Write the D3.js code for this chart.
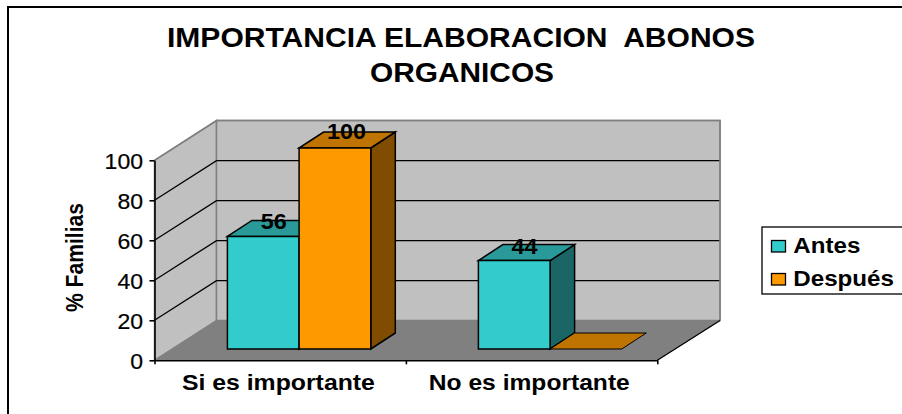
<!DOCTYPE html>
<html><head><meta charset="utf-8">
<script src="https://cdn.jsdelivr.net/npm/d3@7"></script>
<style>
html,body{margin:0;padding:0;background:#fff;overflow:hidden}
text{font-family:"Liberation Sans",Arial,sans-serif;font-weight:bold;fill:#000}
</style></head><body><div id="c"></div>
<script>
const categories = ["Si es importante","No es importante"];
const seriesNames = ["Antes","Después"];
const antes = [56,44];
const despues = [100,0];
const yTicks = [0,20,40,60,80,100];
const titleLines = ["IMPORTANCIA ELABORACION  ABONOS","ORGANICOS"];
const yTitle = "% Familias";

const W=902,H=414;
const svg=d3.select("#c").append("svg").attr("width",W).attr("height",H).style("display","block");
const stretch=(sel,len)=>sel.attr("textLength",len).attr("lengthAdjust","spacingAndGlyphs");

// frame
svg.append("rect").attr("x",8).attr("y",7).attr("width",W+10).attr("height",H+10)
  .attr("fill","#fff").attr("stroke","#000").attr("stroke-width",2);

const ox=154.5, x1=657.3, dx=62, dy=-39.7, xr=x1+dx+0.7;
const y=d3.scaleLinear().domain([0,100]).range([360.3,160.3]);
const x=d3.scaleBand().domain(categories).range([ox,x1]);
const poly=(pts,fill,stroke,sw)=>svg.append("polygon").attr("points",pts.map(p=>p.join(",")).join(" "))
  .attr("fill",fill).attr("stroke",stroke).attr("stroke-width",sw||1);

// walls and floor
poly([[ox,y(0)],[ox+dx,y(0)+dy],[ox+dx,y(100)+dy],[ox,y(100)]],"#c0c0c0","#808080",1.5);
poly([[ox+dx,y(0)+dy],[xr,y(0)+dy],[xr,y(100)+dy],[ox+dx,y(100)+dy]],"#c0c0c0","#808080",1.5);
poly([[ox,y(0)],[ox+dx,y(0)+dy],[xr,y(0)+dy],[x1,y(0)]],"#808080","#808080",1);

// gridlines
yTicks.filter(t=>t>0&&t<100).forEach(t=>{
  svg.append("path").attr("fill","none").attr("stroke","#000").attr("stroke-width",1.3)
    .attr("d",`M${ox},${y(t)}L${ox+dx},${y(t)+dy}L${xr},${y(t)+dy}`);
});
svg.append("path").attr("fill","none").attr("stroke","#808080").attr("stroke-width",1.5)
  .attr("d",`M${ox},${y(100)}L${ox+dx},${y(100)+dy}L${xr},${y(100)+dy}L${xr},${y(0)+dy}`);
svg.append("path").attr("fill","none").attr("stroke","#000").attr("stroke-width",1.2)
  .attr("d",`M${x1},${y(0)}L${xr},${y(0)+dy}`);

// axes
const yAxis=d3.axisLeft(y).tickValues(yTicks).tickSize(5).tickPadding(6.5).tickSizeOuter(0);
const gy=svg.append("g").attr("transform",`translate(${ox},0)`).call(yAxis);
gy.selectAll("text").style("font-weight","normal").style("font-size","21.5px")
  .style("stroke","#000").style("stroke-width","0.2px")
  .attr("dy","0.36em")
  .attr("textLength",d=>String(d).length*12.8).attr("lengthAdjust","spacingAndGlyphs");
gy.selectAll("line,path").attr("stroke","#000").attr("stroke-width",1.6);
const gx=svg.append("g").attr("transform",`translate(0,${y(0)})`)
  .call(d3.axisBottom(d3.scaleLinear().domain([0,2]).range([ox,x1])).tickValues([0,1,2]).tickSize(4).tickSizeOuter(0).tickFormat(""));
gx.selectAll("line,path").attr("stroke","#000").attr("stroke-width",1.6);
const catLen=[193,201];
svg.selectAll(".cat").data(categories).enter().append("text").attr("class","cat")
  .attr("x",(d,i)=>x(d)+x.bandwidth()/2+[-1.8,-2.3][i]).attr("y",390).attr("text-anchor","middle")
  .attr("textLength",(d,i)=>catLen[i]).attr("lengthAdjust","spacingAndGlyphs")
  .style("font-size","21.5px").text(d=>d);

// bars
const barBase=349, depthX=24.5, depthY=-16, barW=71.7;
const hScale=d3.scaleLinear().domain([0,100]).range([0,201]);
const barLeft=[227.4,478.4];
const cols=[{f:"#33cccc",t:"#299999",s:"#1a6666"},{f:"#ff9900",t:"#bf7300",s:"#804d00"}];
const drawBar=(xl,v,c)=>{
  const h=hScale(v), top=barBase-h, xe=xl+barW;
  if(v>0){
    poly([[xe,top],[xe+depthX,top+depthY],[xe+depthX,barBase+depthY],[xe,barBase]],c.s,"#000",1.5);
    poly([[xl,top],[xl+depthX,top+depthY],[xe+depthX,top+depthY],[xe,top]],c.t,"#000",1.5);
    poly([[xl,top],[xe,top],[xe,barBase],[xl,barBase]],c.f,"#000",1.5);
  } else {
    poly([[xl,top],[xl+depthX,top+depthY],[xe+depthX,top+depthY],[xe,top]],c.t,"#000",1);
  }
};
categories.forEach((cat,i)=>{
  drawBar(barLeft[i],antes[i],cols[0]);
  drawBar(barLeft[i]+barW,despues[i],cols[1]);
});
const label=(v,xc)=>stretch(svg.append("text").attr("x",xc).attr("y",barBase-hScale(v)-(v===100?8.7:7)).attr("text-anchor","middle")
  .style("font-size","21.5px").text(v),String(v).length*13);
label(antes[0],273.7);
label(despues[0],346.5);
label(antes[1],524.5);

// y title
stretch(svg.append("text").attr("transform","translate(83.3,257.5) rotate(-90)").attr("text-anchor","middle")
  .style("font-size","24px").text(yTitle),109);

// title
const titleLen=[588,184];
svg.selectAll(".ttl").data(titleLines).enter().append("text").attr("class","ttl")
  .attr("x",(d,i)=>[461,462][i]).attr("y",(d,i)=>46.5+i*35.5).attr("text-anchor","middle")
  .attr("xml:space","preserve").style("white-space","pre")
  .attr("textLength",(d,i)=>titleLen[i]).attr("lengthAdjust","spacingAndGlyphs")
  .style("font-size","27px").text(d=>d);

// legend
svg.append("rect").attr("x",762).attr("y",227).attr("width",W).attr("height",67)
  .attr("fill","#fff").attr("stroke","#000").attr("stroke-width",1.3);
const legLen=[67,100.7];
seriesNames.forEach((n,i)=>{
  const ly=246+i*33;
  svg.append("rect").attr("x",771.5).attr("y",ly-5.5).attr("width",14).attr("height",11.5)
    .attr("fill",cols[i].f).attr("stroke","#000").attr("stroke-width",1.3);
  stretch(svg.append("text").attr("x",793.3).attr("y",ly+7.2).style("font-size","21.5px").text(n),legLen[i]);
});
</script></body></html>
